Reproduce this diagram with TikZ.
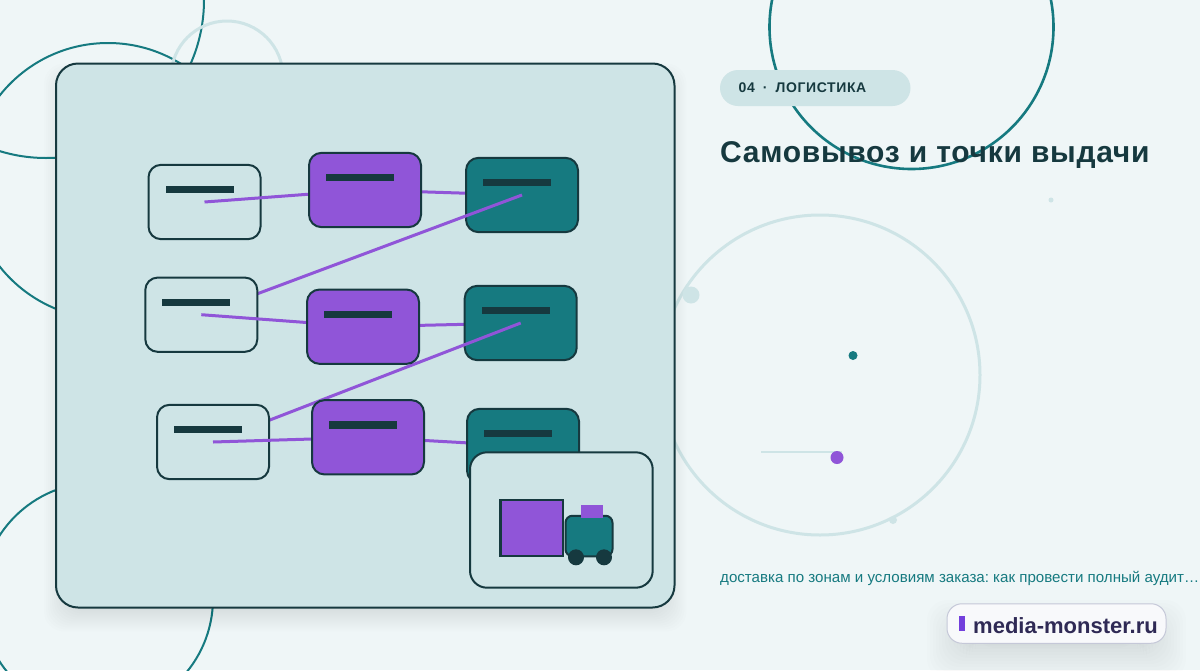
\documentclass[tikz,border=0pt]{standalone}
\usepackage{fontspec}
\setmainfont{Liberation Sans}
\newfontfamily\titlefont[LetterSpace=2.4]{Liberation Sans}
\newfontfamily\pillfont[LetterSpace=4.5]{Liberation Sans}
\definecolor{bgc}{HTML}{EFF6F7}
\definecolor{pale}{HTML}{CEE4E6}
\definecolor{dark}{HTML}{16393F}
\definecolor{teal2}{HTML}{167A80}
\definecolor{purp}{HTML}{9055D8}
\definecolor{markc}{HTML}{7340DC}
\definecolor{inkc}{HTML}{2F2A55}
\definecolor{badgeline}{HTML}{C5C8D8}
\definecolor{badgefill}{HTML}{F8F9FB}
\pgfdeclarelayer{bg}\pgfdeclarelayer{la}\pgfdeclarelayer{lb}\pgfdeclarelayer{lc}\pgfdeclarelayer{ld}\pgfdeclarelayer{le}\pgfdeclarelayer{lf}
\pgfsetlayers{bg,la,lb,lc,ld,le,lf,main}
\tikzset{
  x=1pt,y=-1pt,
  ringteal/.style={draw=teal2,line width=2pt},
  ringpale/.style={draw=pale,line width=3pt},
  flowbox/.style={draw=dark,line width=2pt,rounded corners=12.5pt,minimum width=112pt,minimum height=74.3pt,inner sep=0pt},
  boxa/.style={flowbox,fill=pale},
  boxb/.style={flowbox,fill=purp},
  boxc/.style={flowbox,fill=teal2},
  bar/.style={fill=dark,minimum width=68pt,minimum height=7.5pt,inner sep=0pt},
  link/.style={draw=purp,line width=3pt},
  dot/.style={circle,inner sep=0pt,minimum size=#1},
}
\newcommand\flownode[5]{\begin{pgfonlayer}{#1}\node[#2] (#3) at (#4,#5) {};\node[bar] (#3bar) at (#4-5,#5-12.4) {};\end{pgfonlayer}}
\begin{document}
\frenchspacing
\begin{tikzpicture}
\useasboundingbox (0,0) rectangle (1200,670);
\clip (0,0) rectangle (1200,670);
\begin{pgfonlayer}{bg}
\fill[bgc] (0,0) rectangle (1200,670);
\draw[ringteal] (108,181) circle[radius=138];
\draw[ringteal] (46,0) circle[radius=158];
\draw[ringteal] (97,598.5) circle[radius=116];
\draw[ringpale] (227,77) circle[radius=56];
\draw[ringteal,line width=2.6pt] (911.5,27) circle[radius=142];
\draw[ringpale] (820,375) circle[radius=160];
% soft shadow of the card
\foreach \i in {0,2,...,34}{
  \fill[black,opacity=0.009,rounded corners=20pt]
    (56+\i-12,63.5+\i-12+12) rectangle (674.5-\i+12,607.5-\i+12+12);
}
% soft shadow of the badge
\foreach \i in {0,3,...,48}{
  \fill[black,opacity=0.008,rounded corners=20pt]
    (947+\i-20,604+\i-20+16) rectangle (1166-\i+20,643-\i+20+16);
}
\node[dot=17pt,fill=pale] (d1) at (691,295) {};
\node[dot=8pt,fill=pale] (d4) at (893,520) {};
\node[dot=5pt,fill=pale] (d5) at (1051,200) {};
\node[dot=9pt,fill=teal2] (d2) at (853,355.5) {};
\coordinate (ls) at (761,451.5);
\coordinate (le) at (842,451.5);
\draw[pale,line width=2pt] (ls) -- (le);
\node[dot=13pt,fill=purp] (d3) at (837,457.5) {};
\node[draw=dark,line width=2pt,fill=pale,rounded corners=22pt,minimum width=618.5pt,minimum height=544pt,inner sep=0pt] (card) at (365.25,335.5) {};
\end{pgfonlayer}
\flownode{ld}{boxa}{a1}{204.5}{202}
\flownode{lf}{boxb}{b1}{365}{190}
\flownode{lb}{boxc}{c1}{522}{195}
\flownode{ld}{boxa}{a2}{201.3}{314.7}
\flownode{lf}{boxb}{b2}{363}{326.7}
\flownode{lb}{boxc}{c2}{520.7}{323}
\flownode{ld}{boxa}{a3}{213}{442}
\flownode{lf}{boxb}{b3}{368}{437.3}
\flownode{lb}{boxc}{c3}{523}{446}
\begin{pgfonlayer}{la}
\draw[link] (b1.center) -- (c1.center);
\draw[link] (b2.center) -- (c2.center);
\draw[link] (b3.center) -- (c3.center);
\end{pgfonlayer}
\begin{pgfonlayer}{lc}
\draw[link] (c1.center) -- (a2.center);
\draw[link] (c2.center) -- (a3.center);
\end{pgfonlayer}
\begin{pgfonlayer}{le}
\draw[link] (a1.center) -- (b1.center);
\draw[link] (a2.center) -- (b2.center);
\draw[link] (a3.center) -- (b3.center);
\end{pgfonlayer}
\node[draw=dark,line width=2pt,fill=pale,rounded corners=17pt,minimum width=182.7pt,minimum height=135.4pt,inner sep=0pt] (truck) at (561.35,520) {};
\node[draw=dark,line width=2.5pt,fill=purp,minimum width=62.5pt,minimum height=56.3pt,inner sep=0pt] (cargo) at (531.75,528) {};
\node[draw=dark,line width=2pt,fill=teal2,rounded corners=7pt,minimum width=47pt,minimum height=40.5pt,inner sep=0pt] (cab) at (589,536) {};
\node[fill=purp,minimum width=22pt,minimum height=13pt,inner sep=0pt] (roof) at (592.3,511.8) {};
\node[dot=16pt,fill=dark] (w1) at (576,557.3) {};
\node[dot=16pt,fill=dark] (w2) at (604,557.3) {};
\node[fill=pale,rounded corners=18pt,minimum width=190.5pt,minimum height=36pt,inner sep=0pt] (pill) at (815.25,88) {};
\node[anchor=base west,inner sep=0pt,text=dark] (pilltext) at (738.5,92) {\pillfont\fontsize{14}{16}\selectfont\bfseries 04\hspace{8pt}·\hspace{8pt}ЛОГИСТИКА};
\node[anchor=base west,inner sep=0pt,text=dark] (title) at (720,162.5) {\titlefont\fontsize{30}{34}\selectfont\bfseries Самовывоз и точки выдачи};
\node[anchor=base west,inner sep=0pt,text=teal2] (sub) at (720,582) {\fontsize{15.1}{17}\selectfont доставка по зонам и условиям заказа: как провести полный аудит…};
\node[draw=badgeline,line width=1pt,fill=badgefill,rounded corners=15pt,minimum width=219pt,minimum height=39.5pt,inner sep=0pt] (badge) at (1056.5,623.5) {};
\node[fill=markc,minimum width=6pt,minimum height=14.7pt,inner sep=0pt] (mark) at (962,623.3) {};
\node[anchor=base west,inner sep=0pt,text=inkc] (brand) at (973,633) {\fontsize{22}{26}\selectfont\bfseries media-monster.ru};
\end{tikzpicture}
\end{document}
